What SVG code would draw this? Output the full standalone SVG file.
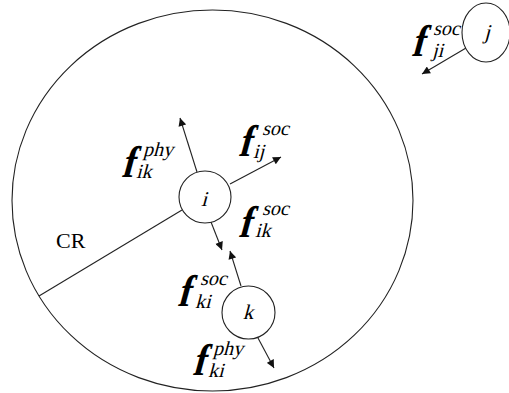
<svg xmlns="http://www.w3.org/2000/svg" width="509" height="393" viewBox="0 0 509 393">
<style>
.ln{stroke:#222;stroke-width:1.1;fill:none}
.nd{stroke:#222;stroke-width:1.1;fill:#fff}
.f{font-family:"Liberation Serif",serif;font-weight:bold;font-size:37px;fill:#000}
.s{font-family:"Liberation Serif",serif;font-size:20px;fill:#000}
.nl{font-family:"Liberation Serif",serif;font-size:21px;fill:#000;text-anchor:middle}
.cr{font-family:"Liberation Serif",serif;font-size:22px;fill:#000}
</style>
<defs>
<marker id="ah" viewBox="0 0 10 10" refX="10" refY="5" markerWidth="9" markerHeight="8" markerUnits="userSpaceOnUse" orient="auto">
<path d="M0,0 L10,5 L0,10 z" fill="#111"/>
</marker>
</defs>
<rect width="509" height="393" fill="#fff"/>
<g id="region">
<ellipse class="ln" cx="212.5" cy="200.5" rx="200.5" ry="190.5"/>
<text class="cr" x="56" y="248">CR</text>
</g>
<g id="connectors">
<line class="ln" x1="39" y1="296" x2="182" y2="210"/>
<line class="ln" x1="197" y1="172" x2="180" y2="118" marker-end="url(#ah)"/>
<line class="ln" x1="230" y1="184" x2="281" y2="157" marker-end="url(#ah)"/>
<line class="ln" x1="211" y1="222" x2="222" y2="250" marker-end="url(#ah)"/>
<line class="ln" x1="241" y1="286" x2="230" y2="251" marker-end="url(#ah)"/>
<line class="ln" x1="258" y1="338" x2="274" y2="368" marker-end="url(#ah)"/>
<line class="ln" x1="466" y1="48" x2="422" y2="74" marker-end="url(#ah)"/>
</g>
<g id="node-i">
<circle class="nd" cx="205" cy="197" r="26"/>
<text class="nl" transform="translate(204,206) skewX(-15)">i</text>
</g>
<g id="node-k">
<circle class="nd" cx="248.5" cy="312.5" r="26.5"/>
<text class="nl" transform="translate(248,319) skewX(-15)">k</text>
</g>
<g id="node-j">
<ellipse class="nd" cx="486" cy="32.5" rx="24" ry="29.5"/>
<text class="nl" transform="translate(487,39) skewX(-15)">j</text>
</g>
<g id="label-f-ik-phy">
<text class="f" transform="translate(121,177) skewX(-15) scale(1,1.2)">f</text>
<text class="s" transform="translate(143,156) skewX(-15)">phy</text>
<text class="s" transform="translate(136,178) skewX(-15)">ik</text>
</g>
<g id="label-f-ij-soc">
<text class="f" transform="translate(238,156) skewX(-15) scale(1,1.2)">f</text>
<text class="s" transform="translate(262,135) skewX(-15)">soc</text>
<text class="s" transform="translate(253,158) skewX(-15)">ij</text>
</g>
<g id="label-f-ik-soc">
<text class="f" transform="translate(238,237) skewX(-15) scale(1,1.2)">f</text>
<text class="s" transform="translate(262,215) skewX(-15)">soc</text>
<text class="s" transform="translate(255,237) skewX(-15)">ik</text>
</g>
<g id="label-f-ki-soc">
<text class="f" transform="translate(177,306) skewX(-15) scale(1,1.2)">f</text>
<text class="s" transform="translate(200,285) skewX(-15)">soc</text>
<text class="s" transform="translate(195,308) skewX(-15)">ki</text>
</g>
<g id="label-f-ki-phy">
<text class="f" transform="translate(192,375) skewX(-15) scale(1,1.2)">f</text>
<text class="s" transform="translate(213,355) skewX(-15)">phy</text>
<text class="s" transform="translate(208,377) skewX(-15)">ki</text>
</g>
<g id="label-f-ji-soc">
<text class="f" transform="translate(411,56) skewX(-15) scale(1,1.2)">f</text>
<text class="s" transform="translate(433,35) skewX(-15)">soc</text>
<text class="s" transform="translate(432,57) skewX(-15)">ji</text>
</g>
</svg>
